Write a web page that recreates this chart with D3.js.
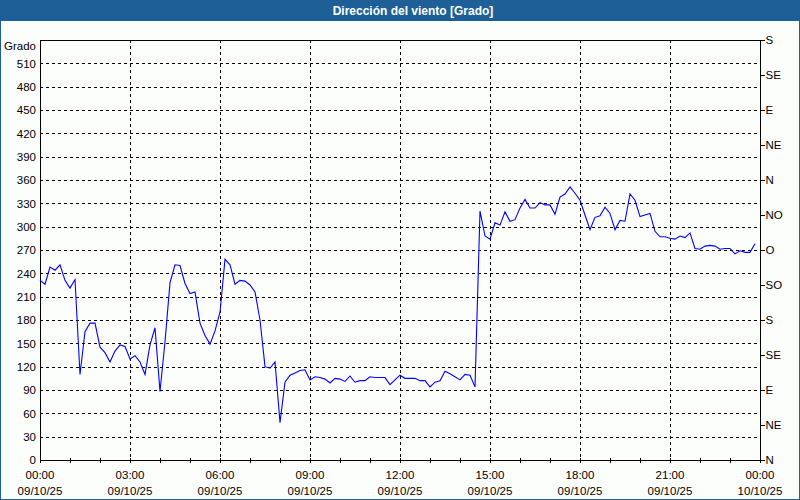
<!DOCTYPE html>
<html>
<head>
<meta charset="utf-8">
<script src="https://cdn.jsdelivr.net/npm/d3@7"></script>
<style>
  html, body { margin: 0; padding: 0; background: #fcfefc; }
  svg { display: block; }
  text { font-family: "Liberation Sans", Arial, sans-serif; }
</style>
</head>
<body>
<svg id="chart" width="800" height="500"></svg>
<script>
// ---- Data ----
const title = "Dirección del viento [Grado]";
const yAxisTitle = "Grado";
const intervalMinutes = 10; // one reading every 10 minutes, starting 00:00 09/10/25
const windDir = [
  231, 226, 248, 244, 251, 231, 221, 232, 110, 165,
  176, 176, 145, 138, 126, 140, 148, 146, 130, 134,
  126, 110, 148, 170, 88, 152, 228, 251, 250, 227,
  214, 216, 176, 160, 149, 166, 190, 258, 251, 226,
  231, 230, 225, 216, 180, 120, 118, 126, 48, 100,
  109, 112, 115, 116, 103, 107, 106, 104, 99, 105,
  104, 101, 108, 100, 102, 102, 107, 106, 106, 106,
  97, 103, 109, 105, 105, 105, 102, 102, 94, 100,
  102, 114, 111, 107, 103, 110, 109, 94, 320, 288,
  284, 305, 302, 319, 307, 309, 324, 335, 324, 324,
  331, 328, 328, 316, 338, 342, 351, 343, 334, 315,
  296, 312, 314, 325, 317, 296, 308, 307, 342, 334,
  313, 315, 317, 294, 287, 287, 285, 284, 288, 286,
  292, 272, 271, 275, 276, 275, 271, 272, 272, 265,
  269, 267, 267, 278
];
const yTicks = [0, 30, 60, 90, 120, 150, 180, 210, 240, 270, 300, 330, 360, 390, 420, 450, 480, 510];
const yDomain = [0, 540];
const dirTicks = [0, 45, 90, 135, 180, 225, 270, 315, 360, 405, 450, 495, 540];
const dirLabels = ["N", "NE", "E", "SE", "S", "SO", "O", "NO", "N", "NE", "E", "SE", "S"];
const xMajorHours = [0, 3, 6, 9, 12, 15, 18, 21, 24];
const xTimeLabels = ["00:00", "03:00", "06:00", "09:00", "12:00", "15:00", "18:00", "21:00", "00:00"];
const xDateLabels = ["09/10/25", "09/10/25", "09/10/25", "09/10/25", "09/10/25", "09/10/25", "09/10/25", "09/10/25", "10/10/25"];
const xMinorHours = d3.range(0, 25);

// ---- Layout ----
const W = 800, H = 500;
const plot = { left: 40, right: 760, top: 40, bottom: 460 };
const frameColor = "#1e5f98";

const svg = d3.select("#chart");

// background
svg.append("rect").attr("x", 0).attr("y", 0).attr("width", W).attr("height", H).attr("fill", "#fcfefc");

// title bar
svg.append("rect").attr("x", 0).attr("y", 0).attr("width", W).attr("height", 21).attr("fill", frameColor);
svg.append("text").attr("x", 413).attr("y", 14.5).attr("text-anchor", "middle")
  .attr("fill", "#ffffff").attr("font-weight", "bold").attr("font-size", "12px").text(title);

// outer frame
svg.append("rect").attr("x", 0.5).attr("y", 0.5).attr("width", W - 1).attr("height", H - 1)
  .attr("fill", "none").attr("stroke", frameColor).attr("stroke-width", 1);

const x = d3.scaleLinear().domain([0, 24 * 60]).range([plot.left, plot.right]);
const y = d3.scaleLinear().domain(yDomain).range([plot.bottom, plot.top]);

// gridlines
const grid = svg.append("g").attr("shape-rendering", "crispEdges");
grid.selectAll("line.h").data(yTicks.filter(v => v > 0)).enter().append("line")
  .attr("x1", plot.left).attr("x2", plot.right)
  .attr("y1", d => Math.round(y(d)) + 0.5).attr("y2", d => Math.round(y(d)) + 0.5)
  .attr("stroke", "#000").attr("stroke-dasharray", "3,3");
grid.selectAll("line.v").data(xMajorHours.filter(h => h > 0 && h < 24)).enter().append("line")
  .attr("x1", d => Math.round(x(d * 60)) + 0.5).attr("x2", d => Math.round(x(d * 60)) + 0.5)
  .attr("y1", plot.top).attr("y2", plot.bottom)
  .attr("stroke", "#000").attr("stroke-dasharray", "3,3");

// plot frame
svg.append("rect").attr("x", plot.left + 0.5).attr("y", plot.top + 0.5)
  .attr("width", plot.right - plot.left).attr("height", plot.bottom - plot.top)
  .attr("fill", "none").attr("stroke", "#000").attr("shape-rendering", "crispEdges");

// left axis
const leftAxis = d3.axisLeft(y).tickValues(yTicks).tickSize(0).tickPadding(4);
const gl = svg.append("g").attr("transform", `translate(${plot.left},0)`).call(leftAxis);
gl.select(".domain").remove();
gl.selectAll("text").attr("font-size", "11.5px").attr("fill", "#000")
  .attr("font-family", "'Liberation Sans', Arial, sans-serif").attr("x", -4);
svg.append("text").attr("x", 36).attr("y", 50).attr("text-anchor", "end")
  .attr("font-size", "11.5px").attr("fill", "#000").text(yAxisTitle);

// right axis (compass)
const rightAxis = d3.axisRight(y).tickValues(dirTicks).tickFormat((d, i) => dirLabels[i]).tickSize(4).tickPadding(1);
const gr = svg.append("g").attr("transform", `translate(${plot.right + 0.5},0)`).call(rightAxis);
gr.select(".domain").remove();
gr.selectAll("line").attr("stroke", "#000").attr("shape-rendering", "crispEdges");
gr.selectAll("text").attr("font-size", "11.5px").attr("fill", "#000")
  .attr("font-family", "'Liberation Sans', Arial, sans-serif");

// bottom axis: minor ticks every hour
const bottom = svg.append("g").attr("shape-rendering", "crispEdges");
bottom.selectAll("line").data(xMinorHours).enter().append("line")
  .attr("x1", d => Math.round(x(d * 60)) + 0.5).attr("x2", d => Math.round(x(d * 60)) + 0.5)
  .attr("y1", plot.bottom - 2).attr("y2", plot.bottom + 3)
  .attr("stroke", "#000");
const lab = svg.append("g");
lab.selectAll("text.t").data(xMajorHours).enter().append("text")
  .attr("x", d => x(d * 60)).attr("y", 479).attr("text-anchor", "middle")
  .attr("font-size", "11.5px").attr("fill", "#000").text((d, i) => xTimeLabels[i]);
lab.selectAll("text.d").data(xMajorHours).enter().append("text")
  .attr("x", d => x(d * 60)).attr("y", 495).attr("text-anchor", "middle")
  .attr("font-size", "11.5px").attr("fill", "#000").text((d, i) => xDateLabels[i]);

// line
const line = d3.line()
  .x((d, i) => x(i * intervalMinutes))
  .y(d => y(d));
svg.append("path").datum(windDir)
  .attr("d", line)
  .attr("fill", "none").attr("stroke", "#0000ff").attr("stroke-width", 1.1);
</script>
</body>
</html>
